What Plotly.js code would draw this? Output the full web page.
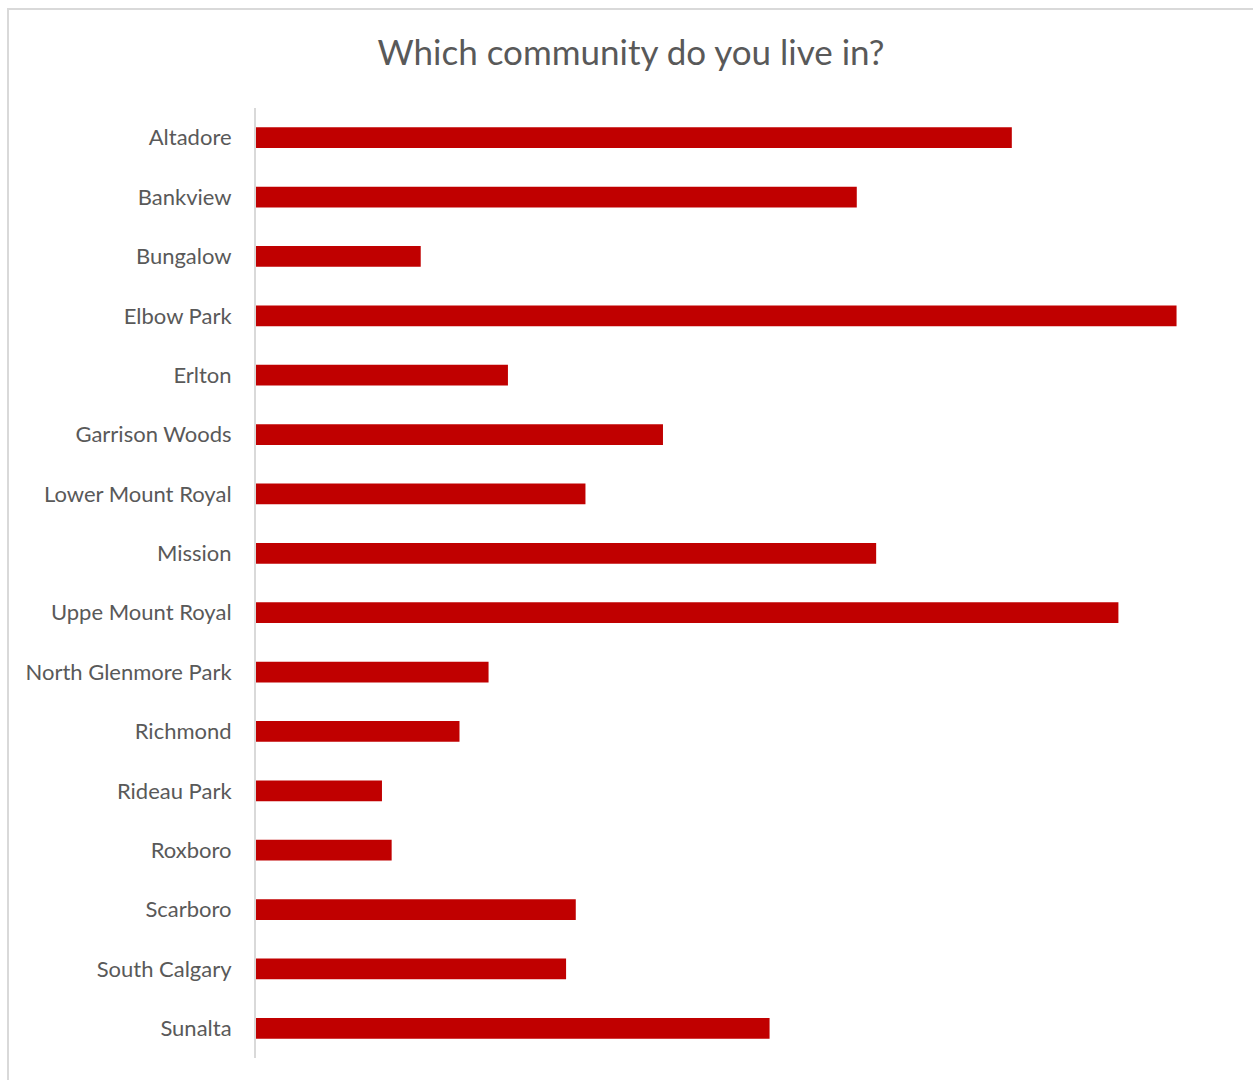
<!DOCTYPE html>
<html>
<head>
<meta charset="utf-8">
<script src="https://cdn.plot.ly/plotly-3.0.1.min.js"></script>
<style>
  html, body { margin: 0; padding: 0; background: #fff; overflow: hidden; }
  #frame { position: absolute; left: 7px; top: 8px; width: 1260px; height: 1090px;
           border-top: 2px solid #D9D9D9; border-left: 2px solid #D9D9D9; }
  #chart { position: absolute; left: 9px; top: 10px; width: 1244px; height: 1070px; }
</style>
</head>
<body>
<div id="frame"></div>
<div id="chart"></div>
<script>
const communities = ["Altadore", "Bankview", "Bungalow", "Elbow Park", "Erlton", "Garrison Woods",
  "Lower Mount Royal", "Mission", "Uppe Mount Royal", "North Glenmore Park", "Richmond",
  "Rideau Park", "Roxboro", "Scarboro", "South Calgary", "Sunalta"];
const responses = [78, 62, 17, 95, 26, 42, 34, 64, 89, 24, 21, 13, 14, 33, 32, 53];
const chartTitle = "Which community do you live in?";

const trace = {
  type: "bar",
  orientation: "h",
  y: communities,
  x: responses,
  marker: { color: "#C00000" },
  width: 0.35,
  hoverinfo: "x+y"
};

const layout = {
  width: 1244,
  height: 1070,
  margin: { l: 247, r: 28, t: 98, b: 22 },
  paper_bgcolor: "rgba(0,0,0,0)",
  plot_bgcolor: "rgba(0,0,0,0)",
  title: {
    text: chartTitle,
    x: 0.5, xref: "container", xanchor: "center",
    y: 1 - 43 / 1070, yref: "container", yanchor: "middle",
    font: { family: "Lato, sans-serif", size: 35, color: "#595959" }
  },
  xaxis: { visible: false, range: [0, 100], fixedrange: true },
  yaxis: {
    autorange: "reversed",
    showline: true, linecolor: "#D9D9D9", linewidth: 2,
    showgrid: false, zeroline: false, ticks: "",
    ticklabelstandoff: 18,
    tickfont: { family: "Lato, sans-serif", size: 22, color: "#595959" }
  },
  showlegend: false
};

Plotly.newPlot("chart", [trace], layout, { displayModeBar: false, staticPlot: true });
</script>
</body>
</html>
